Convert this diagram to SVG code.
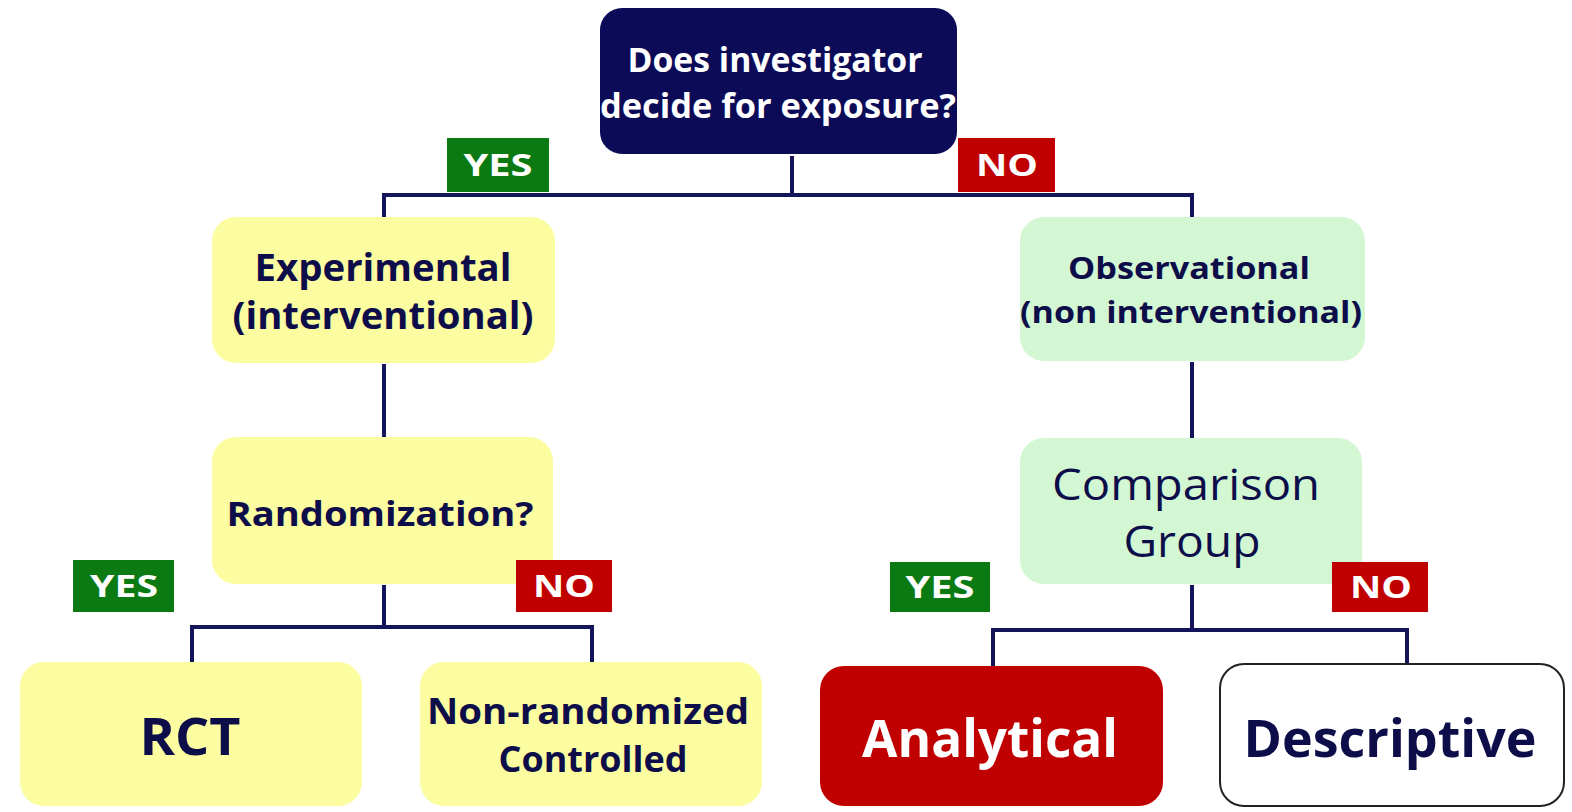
<svg xmlns="http://www.w3.org/2000/svg" width="1572" height="812" viewBox="0 0 1572 812">
<style>
.t{font-family:"Open Sans",Lato,"Liberation Sans",sans-serif;font-weight:bold;text-anchor:middle;fill:#0d0d4a}
.n{font-weight:normal}
.w{fill:#ffffff}
.yl{fill:#fcfca0}
.gr{fill:#d2f7d2}
.c{fill:none;stroke:#14145a;stroke-width:4}
.yes{fill:#0b7a12}
.no{fill:#c00000}
.lab{font-family:"Open Sans",Lato,"Liberation Sans",sans-serif;font-weight:bold;font-size:30px;fill:#ffffff;text-anchor:middle}
</style>
<rect width="1572" height="812" fill="#ffffff"/>
<g id="connectors">
<path class="c" d="M792 156V195M384 219V195H1192V219"/>
<path class="c" d="M384 364V437"/>
<path class="c" d="M1192 362V438"/>
<path class="c" d="M384 585V627M192 662V627H592V662"/>
<path class="c" d="M1192 585V630M993 666V630H1407V664"/>
</g>
<g id="root">
<rect x="600" y="8" width="357" height="146" rx="22" fill="#0b0b58"/>
<text class="t w" x="775" y="72" font-size="34" textLength="295" lengthAdjust="spacingAndGlyphs">Does investigator</text>
<text class="t w" x="778" y="118" font-size="34" textLength="356" lengthAdjust="spacingAndGlyphs">decide for exposure?</text>
</g>
<g id="label-yes-1"><rect class="yes" x="447" y="138" width="102" height="54"/><text class="lab" x="498" y="176" textLength="69" lengthAdjust="spacingAndGlyphs">YES</text></g>
<g id="label-no-1"><rect class="no" x="958" y="138" width="97" height="54"/><text class="lab" x="1007" y="176" textLength="62" lengthAdjust="spacingAndGlyphs">NO</text></g>
<g id="experimental">
<rect class="yl" x="212" y="217" width="343" height="146" rx="24"/>
<text class="t" x="383" y="281" font-size="37" textLength="257" lengthAdjust="spacingAndGlyphs">Experimental</text>
<text class="t" x="383" y="329" font-size="37" textLength="301" lengthAdjust="spacingAndGlyphs">(interventional)</text>
</g>
<g id="observational">
<rect class="gr" x="1020" y="217" width="345" height="144" rx="24"/>
<text class="t" x="1189" y="279" font-size="30" textLength="242" lengthAdjust="spacingAndGlyphs">Observational</text>
<text class="t" x="1191" y="323" font-size="30" textLength="342" lengthAdjust="spacingAndGlyphs">(non interventional)</text>
</g>
<g id="randomization">
<rect class="yl" x="212" y="437" width="341" height="147" rx="24"/>
<text class="t" x="380" y="526" font-size="34" textLength="307" lengthAdjust="spacingAndGlyphs">Randomization?</text>
</g>
<g id="comparison">
<rect class="gr" x="1020" y="438" width="342" height="146" rx="24"/>
<text class="t n" x="1186" y="500" font-size="44" textLength="268" lengthAdjust="spacingAndGlyphs">Comparison</text>
<text class="t n" x="1192" y="557" font-size="44" textLength="137" lengthAdjust="spacingAndGlyphs">Group</text>
</g>
<g id="label-yes-2"><rect class="yes" x="73" y="560" width="101" height="52"/><text class="lab" x="124" y="597" textLength="68" lengthAdjust="spacingAndGlyphs">YES</text></g>
<g id="label-no-2"><rect class="no" x="516" y="560" width="96" height="52"/><text class="lab" x="564" y="597" textLength="62" lengthAdjust="spacingAndGlyphs">NO</text></g>
<g id="label-yes-3"><rect class="yes" x="890" y="562" width="100" height="50"/><text class="lab" x="940" y="598" textLength="69" lengthAdjust="spacingAndGlyphs">YES</text></g>
<g id="label-no-3"><rect class="no" x="1332" y="562" width="96" height="50"/><text class="lab" x="1381" y="598" textLength="62" lengthAdjust="spacingAndGlyphs">NO</text></g>
<g id="rct">
<rect class="yl" x="20" y="662" width="342" height="144" rx="24"/>
<text class="t" x="190" y="755" font-size="52" textLength="101" lengthAdjust="spacingAndGlyphs">RCT</text>
</g>
<g id="nonrandomized">
<rect class="yl" x="420" y="662" width="342" height="144" rx="24"/>
<text class="t" x="588" y="724" font-size="35" textLength="322" lengthAdjust="spacingAndGlyphs">Non-randomized</text>
<text class="t" x="593" y="772" font-size="35" textLength="189" lengthAdjust="spacingAndGlyphs">Controlled</text>
</g>
<g id="analytical">
<rect class="no" x="820" y="666" width="343" height="140" rx="24"/>
<text class="t w" x="990" y="757" font-size="52" textLength="256" lengthAdjust="spacingAndGlyphs">Analytical</text>
</g>
<g id="descriptive">
<rect x="1220" y="664" width="344" height="142" rx="24" fill="#ffffff" stroke="#222" stroke-width="2"/>
<text class="t" x="1390" y="757" font-size="52" textLength="293" lengthAdjust="spacingAndGlyphs">Descriptive</text>
</g>
</svg>
